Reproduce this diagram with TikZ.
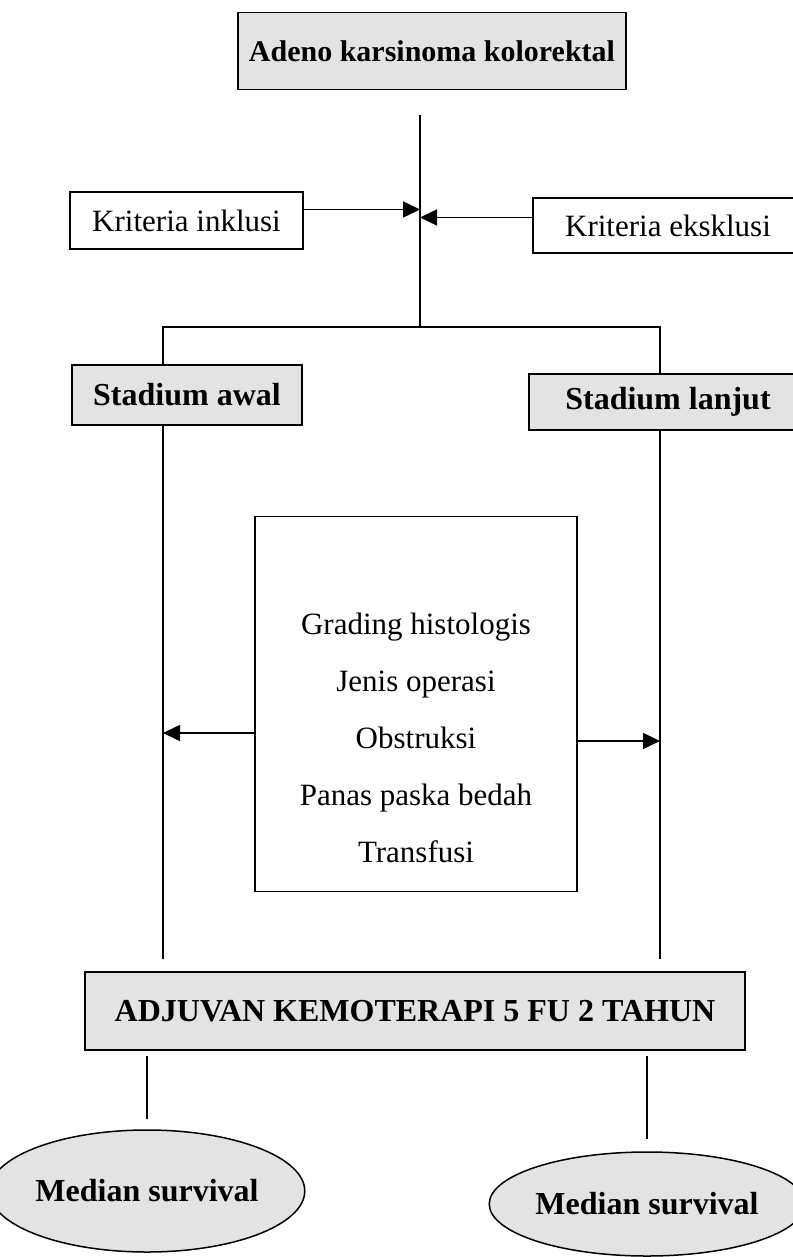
\documentclass[tikz,border=0pt]{standalone}
\usepackage{fontspec}
\setmainfont{Liberation Serif}
\usetikzlibrary{arrows.meta,shapes.geometric}

\begin{document}
\begin{tikzpicture}[x=1pt, y=-1pt,
  shaded/.style={draw, fill=black!11, inner sep=0pt, font=\bfseries\fontsize{32}{38}\selectfont},
  plain/.style={draw, fill=white, inner sep=0pt, font=\fontsize{31}{37}\selectfont},
  outcome/.style={shaded, ellipse},
  line/.style={-{Triangle[length=17pt,width=16pt]}, line width=1.5pt},
  every path/.style={line width=1.5pt}
]
\useasboundingbox (0,0) rectangle (792,1257);
\node[shaded, minimum width=388pt, minimum height=77pt, font=\bfseries\fontsize{30}{36}\selectfont] (tumor) at (432,51) {Adeno karsinoma kolorektal};
\node[plain, minimum width=233pt, minimum height=57pt] (inkl) at (186.5,220.5) {Kriteria inklusi};
\node[plain, minimum width=270pt, minimum height=55pt] (ekskl) at (668,225.5) {Kriteria eksklusi};
\node[shaded, minimum width=230pt, minimum height=60pt] (awal) at (187,395) {Stadium awal};
\node[shaded, minimum width=278pt, minimum height=56pt] (lanjut) at (668,402) {Stadium lanjut};
\node[plain, minimum width=322pt, minimum height=375pt] (faktor) at (416,704) {};
\node[font=\fontsize{31}{57}\selectfont, align=center] (faktorlist) at (416,738) {Grading histologis\\Jenis operasi\\Obstruksi\\Panas paska bedah\\Transfusi};
\node[shaded, minimum width=660pt, minimum height=78pt] (adj) at (415,1011) {ADJUVAN KEMOTERAPI 5 FU 2 TAHUN};
\node[outcome, minimum width=273pt, minimum height=122pt] (surv1) at (147,1191) {Median survival};
\node[outcome, minimum width=275pt, minimum height=104pt] (surv2) at (647,1204) {Median survival};
\coordinate (split) at (420,327);
\coordinate (lsplit) at (163,327);
\coordinate (rsplit) at (660,327);
\draw[shorten <=25pt] (tumor.south -| split) -- (split);
\draw (awal.north -| lsplit) -- (lsplit) -- (rsplit) -- (lanjut.north -| rsplit);
\draw[line] ([yshift=11pt]inkl.east) -- ([yshift=11pt]inkl.east -| split);
\draw[line] ([yshift=8pt]ekskl.west) -- ([yshift=8pt]ekskl.west -| split);
\draw[shorten >=12pt] (awal.south -| lsplit) -- (adj.north -| lsplit);
\draw[shorten >=12pt] (lanjut.south -| rsplit) -- (adj.north -| rsplit);
\draw[line] ([yshift=-29pt]faktor.west) -- ([yshift=-29pt]faktor.west -| lsplit);
\draw[line] ([yshift=-37pt]faktor.east) -- ([yshift=-37pt]faktor.east -| rsplit);
\draw[shorten <=5pt, shorten >=10pt] (adj.south -| surv1) -- (surv1.north);
\draw[shorten <=5pt, shorten >=12pt] (adj.south -| surv2) -- (surv2.north);
\end{tikzpicture}
\end{document}
